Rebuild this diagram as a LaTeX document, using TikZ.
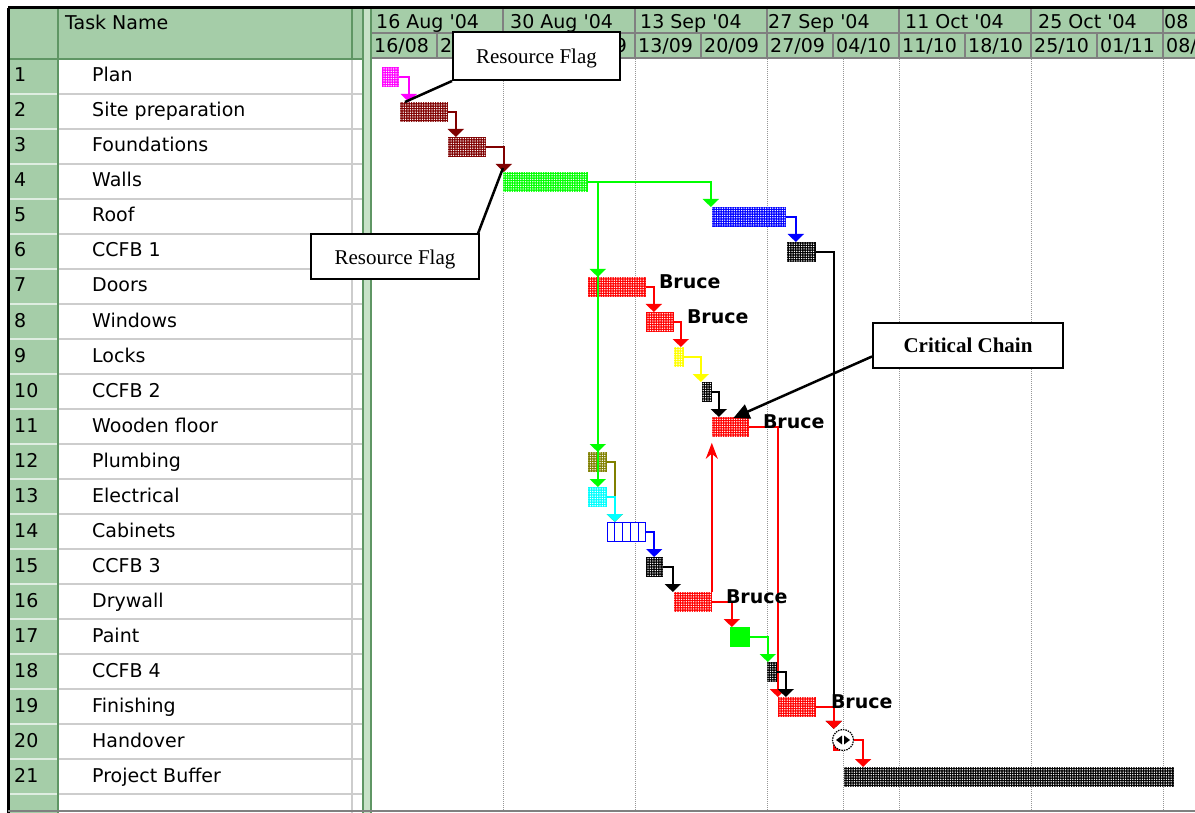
\documentclass[tikz,border=0pt]{standalone}
\usepackage{fontspec}
\setmainfont{DejaVu Sans}
\newfontfamily\calloutfont{Liberation Serif}
\usetikzlibrary{arrows.meta,calc,patterns.meta}

% table colours
\definecolor{hdrgreen}{RGB}{165,205,168}
\definecolor{hdrdark}{RGB}{95,150,100}
\definecolor{splitgreen}{RGB}{200,226,200}
\definecolor{rowline}{RGB}{205,205,205}
\definecolor{tiergray}{RGB}{128,128,128}
\definecolor{dotgray}{RGB}{150,150,150}
% bar colours
\definecolor{pmred}{RGB}{255,0,0}
\definecolor{pmdarkred}{RGB}{128,0,0}
\definecolor{pmgreen}{RGB}{0,255,0}
\definecolor{pmblue}{RGB}{0,0,255}
\definecolor{pmmagenta}{RGB}{255,0,255}
\definecolor{pmyellow}{RGB}{255,255,0}
\definecolor{pmolive}{RGB}{128,128,0}
\definecolor{pmcyan}{RGB}{0,255,255}
\definecolor{pmblack}{RGB}{0,0,0}

\tikzset{
  sans/.style={font=\fontsize{19}{19}\selectfont, inner sep=0pt, anchor=base west},
  who/.style={font=\bfseries\fontsize{19}{19}\selectfont, inner sep=0pt, anchor=base west},
  taskbar/.style={draw=#1, fill=#1, line width=0.8pt, inner sep=0pt,
    minimum height=19pt, anchor=north west,
    postaction={pattern={Dots[radius=0.75pt,distance=2.4pt]}, pattern color=white}},
  plainbar/.style={draw=#1, fill=#1, line width=0.8pt, inner sep=0pt,
    minimum height=19pt, anchor=north west},
  link/.style={draw=#1, line width=1.8pt, -{Triangle[width=16pt,length=8pt]}},
  callout/.style={draw=black, line width=2pt, fill=white, inner sep=0pt, text depth=0pt,
    font=\calloutfont\fontsize{21}{21}\selectfont},
  leader/.style={draw=black, line width=2.5pt},
  daygrid/.style={draw=dotgray, line width=1pt, dash pattern=on 1pt off 1pt},
}

% bar: [style]{name}{colour}{x start}{x end}{row}
\newcommand\planbar[6][taskbar]{%
  \node[#1=#3, minimum width={#5-#4}] (#2) at (#4,{67+35*(#6-1)}) {};}
% finish-to-start link: {colour}{from}{horizontal run}{to}
\newcommand\fslink[4]{%
  \draw[link=#1] (#2.east) -- ++(#3,0) coordinate (elbow) -- (elbow |- #4.north);}

\begin{document}
\begin{tikzpicture}[x=1pt,y=-1pt]
\useasboundingbox (0,0) rectangle (1195,813);
\fill[white] (0,0) rectangle (1195,813);

% ---- task table ----
\fill[hdrgreen] (9,9) rectangle (58,813);
\fill[hdrgreen] (58,9) rectangle (362,59);
\fill[splitgreen] (362,9) rectangle (372,813);
\draw[hdrdark, line width=1.2pt] (363,9) -- (363,813);
\draw[hdrdark, line width=1.2pt] (371,9) -- (371,813);
\foreach \r in {0,...,20} {
  \draw[rowline, line width=1.5pt] (58,{94+35*\r}) -- (352,{94+35*\r});
  \draw[rowline, line width=1.5pt] (352,{94+35*\r}) -- (362,{94+35*\r});
  \draw[white!65!hdrgreen, line width=1.5pt] (9,{94+35*\r}) -- (57,{94+35*\r});
}
\draw[rowline, line width=1.5pt] (352,59) -- (352,813);
\draw[hdrdark, line width=1.2pt] (352,9) -- (352,59);
\draw[hdrdark, line width=1.5pt] (58,9) -- (58,813);
\draw[hdrdark, line width=1.5pt] (9,59) -- (362,59);
\node[sans] (hdrtask) at (65,30) {Task Name};
\foreach \name [count=\i] in {Plan, Site preparation, Foundations, Walls, Roof,
    CCFB 1, Doors, Windows, Locks, CCFB 2, Wooden floor, Plumbing, Electrical,
    Cabinets, CCFB 3, Drywall, Paint, CCFB 4, Finishing, Handover, Project Buffer} {
  \node[sans] (id\i) at (14,{82+35*(\i-1)}) {\i};
  \node[sans] (task\i) at (92,{82+35*(\i-1)}) {\name};
}

% ---- timescale ----
\fill[hdrgreen] (372,9) rectangle (1195,58);
\draw[tiergray, line width=1.5pt] (372,33) -- (1195,33);
\draw[tiergray, line width=1.5pt] (372,58) -- (1195,58);
\foreach \k in {1,...,6}
  \draw[tiergray, line width=1.5pt] ({371+132*\k},9) -- ({371+132*\k},33);
\foreach \k in {1,...,12}
  \draw[tiergray, line width=1.5pt] ({371+66*\k},33) -- ({371+66*\k},58);
\begin{scope}
  \clip (372,9) rectangle (1195,58);
  \foreach \x/\lab [count=\k] in {376/16 Aug \textquotesingle04, 510/30 Aug \textquotesingle04,
      640/13 Sep \textquotesingle04, 768/27 Sep \textquotesingle04, 905/11 Oct \textquotesingle04,
      1038/25 Oct \textquotesingle04, 1164/08 Nov \textquotesingle04}
    \node[sans] (major\k) at (\x,29) {\lab};
  \foreach \lab [count=\k from 0] in {16/08, 23/08, 30/08, 06/09, 13/09, 20/09, 27/09,
      04/10, 11/10, 18/10, 25/10, 01/11, 08/11}
    \node[sans] (minor\k) at ({374+66*\k},53) {\lab};
\end{scope}

% ---- chart grid ----
\foreach \x in {503,635,767,843,899,1031,1163}
  \draw[daygrid] (\x,59) -- (\x,810);

% ---- task bars ----
\planbar{plan}{pmmagenta}{382}{398}{1}
\planbar{site}{pmdarkred}{400}{447}{2}
\planbar{found}{pmdarkred}{448}{485}{3}
\planbar{walls}{pmgreen}{503}{587}{4}
\planbar{roof}{pmblue}{712}{785}{5}
\planbar{ccfbone}{pmblack}{787}{815}{6}
\planbar{doors}{pmred}{588}{645}{7}
\planbar{windows}{pmred}{646}{673}{8}
\planbar{locks}{pmyellow}{674}{683}{9}
\planbar{ccfbtwo}{pmblack}{702}{711}{10}
\planbar{wood}{pmred}{712}{748}{11}
\planbar{plumb}{pmolive}{588}{606}{12}
\planbar{elec}{pmcyan}{588}{606}{13}
\node[draw=pmblue, fill=white, line width=1.2pt, inner sep=0pt, minimum height=19pt,
      minimum width=38pt, anchor=north west] (cab) at (607,522) {};
\foreach \k in {1,...,4}
  \draw[pmblue, line width=1.2pt] ($(cab.north west)!\k/5!(cab.north east)$) --
                                  ($(cab.south west)!\k/5!(cab.south east)$);
\planbar{ccfbthree}{pmblack}{646}{662}{15}
\planbar{dry}{pmred}{674}{711}{16}
\planbar[plainbar]{paint}{pmgreen}{730}{749}{17}
\planbar{ccfbfour}{pmblack}{767}{776}{18}
\planbar{finish}{pmred}{778}{815}{19}
\node[plainbar=pmred, minimum width=6pt, minimum height=9pt] (hobar) at (833,741) {};
\node[circle, draw=black, fill=white, line width=1.2pt, dash pattern=on 1.5pt off 1pt,
      minimum size=21pt, inner sep=0pt] (ho) at (843,740) {};
\fill ([xshift=-7pt]ho.center) -- ++(6,-4.5) -- ++(0,9) -- cycle;
\fill ([xshift=7pt]ho.center) -- ++(-6,-4.5) -- ++(0,9) -- cycle;
\planbar{buffer}{pmblack}{844}{1173}{21}

% ---- links ----
\fslink{pmmagenta}{plan}{10}{site}
\fslink{pmdarkred}{site}{8}{found}
\fslink{pmdarkred}{found}{18}{walls}
\fslink{pmgreen}{walls}{123}{roof}
\fslink{pmgreen}{walls}{10}{doors}
\fslink{pmgreen}{walls}{10}{plumb}
\fslink{pmgreen}{walls}{10}{elec}
\fslink{pmblue}{roof}{10}{ccfbone}
\fslink{pmblack}{ccfbone}{18}{ho}
\fslink{pmred}{doors}{8}{windows}
\fslink{pmred}{windows}{7}{locks}
\fslink{pmyellow}{locks}{17}{ccfbtwo}
\fslink{pmblack}{ccfbtwo}{7}{wood}
\fslink{pmred}{wood}{29}{finish}
\fslink{pmolive}{plumb}{8}{cab}
\fslink{pmcyan}{elec}{8}{cab}
\fslink{pmblue}{cab}{8}{ccfbthree}
\fslink{pmblack}{ccfbthree}{10}{dry}
\fslink{pmred}{dry}{20}{paint}
\fslink{pmgreen}{paint}{18}{ccfbfour}
\fslink{pmblack}{ccfbfour}{9}{finish}
\fslink{pmred}{finish}{18}{ho}
\fslink{pmred}{ho}{9}{buffer}

% resource dependency drywall -> wooden floor
\draw[pmred, line width=2.2pt, -{Stealth[width=12pt,length=16pt]}, shorten >=6pt]
  (dry.north east) -- (dry.north east |- wood.south);

% ---- resource names ----
\node[who] (bdoors) at ([xshift=13pt,yshift=-11.5pt]doors.north east) {Bruce};
\node[who] (bwindows) at ([xshift=13pt,yshift=-11.5pt]windows.north east) {Bruce};
\node[who] (bwood) at ([xshift=14pt,yshift=-11.5pt]wood.north east) {Bruce};
\node[who] (bdry) at ([xshift=14pt,yshift=-11.5pt]dry.north east) {Bruce};
\node[who] (bfinish) at ([xshift=15pt,yshift=-11.5pt]finish.north east) {Bruce};

% ---- callouts ----
\node[callout, minimum width=167pt, minimum height=48pt] (flagone) at (536.5,56) {Resource Flag};
\node[callout, minimum width=168pt, minimum height=45pt] (flagtwo) at (395,257) {Resource Flag};
\node[callout, minimum width=190pt, minimum height=45pt] (chain) at (968,345.5) {\bfseries Critical Chain};
\draw[leader] (flagone.south west) -- ([xshift=5pt]site.north west);
\draw[leader] ([xshift=-2pt]flagtwo.north east) -- ([yshift=4pt]walls.north west);
\draw[leader, -{Triangle[width=15pt,length=16pt]}]
  ([yshift=-11pt]chain.west) -- ([xshift=3pt,yshift=-1pt]wood.north);

% ---- frame ----
\draw[black, line width=3pt] (8,8) -- (1195,8);
\draw[black, line width=3pt] (8,8) -- (8,813);
\draw[tiergray, line width=1.5pt] (8,811) -- (1195,811);
\end{tikzpicture}
\end{document}
